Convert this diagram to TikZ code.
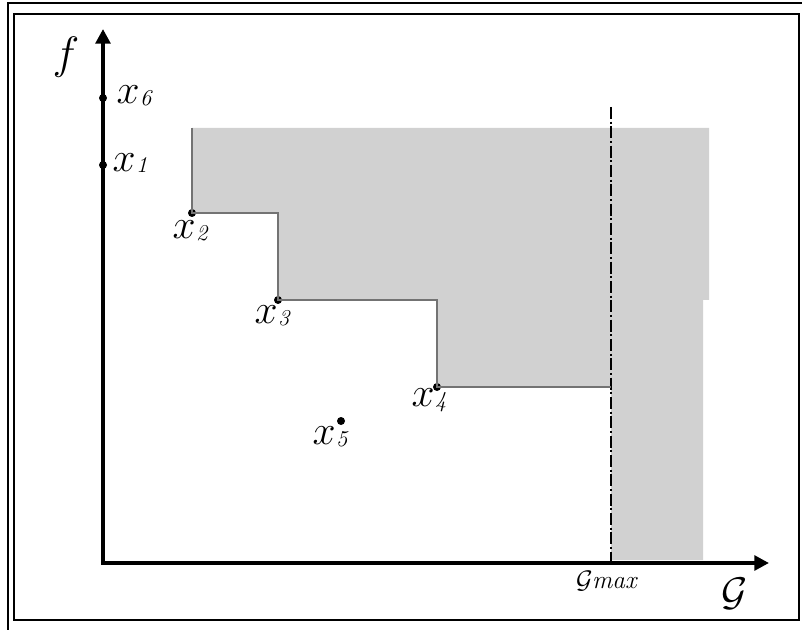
\RequirePackage{fix-cm}
\documentclass[tikz,border=0pt]{standalone}
\usetikzlibrary{arrows.meta}
\newcommand{\ptlabel}[1]{{\fontsize{31}{31}\selectfont$x$}\kern0.5pt\raisebox{-0.1em}{\fontsize{17}{17}\selectfont\itshape #1}}
\begin{document}
\begin{tikzpicture}[x=0.75pt,y=-0.75pt,
  dot/.style={circle,fill=black,inner sep=0pt,minimum size=6pt},
  lbl/.style={inner sep=0pt,anchor=center},
  axes/.style={line width=3pt,line join=miter,
    {Triangle[length=11pt,width=11pt]}-{Triangle[length=11pt,width=11pt]}},
  front/.style={draw=black!55,line width=1.3pt},
  feasible/.style={fill=black!18},
  limit/.style={line width=1.4pt,dash pattern=on 9pt off 2pt on 1.5pt off 2pt},
  frame/.style={line width=1.5pt}]
\useasboundingbox (0,0) rectangle (802,630);

% double frame
\draw[frame] (8,630) -- (8,3) -- (802,3);
\draw[frame] (14,14) rectangle (799,620);

% dominated region behind the front
\fill[feasible] (192,128) -- (709,128) -- (709,300) -- (703,300) -- (703,560)
  -- (611,560) -- (611,387) -- (437,387) -- (437,300) -- (278,300)
  -- (278,213) -- (192,213) -- cycle;

% axes
\coordinate (O) at (103,563);
\coordinate (ytip) at (103,29);
\coordinate (xtip) at (769,563);
\draw[axes] (ytip) -- (O) -- (xtip);

% G max limit
\coordinate (gtop) at (611,107);
\coordinate (gbot) at (611,561);
\draw[limit] (gtop) -- (gbot);

% points
\node[dot] (x6) at (103,98) {};
\node[dot] (x1) at (103,165) {};
\node[dot] (x2) at (192,213) {};
\node[dot] (x3) at (278,300) {};
\node[dot] (x4) at (437,387) {};
\node[dot] (x5) at (341,421) {};

% staircase front
\coordinate (ftop) at (192,128);
\coordinate (fend) at (611,387);
\draw[front] (ftop) -- (x2.center) -| (x3.center) -| (x4.center) -- (fend);

% point labels
\node[lbl] (l6) at (134,96) {\ptlabel{6}};
\node[lbl] (l1) at (130,163) {\ptlabel{1}};
\node[lbl] (l2) at (190,231) {\ptlabel{2}};
\node[lbl] (l3) at (272,316) {\ptlabel{3}};
\node[lbl] (l4) at (429,400) {\ptlabel{4}};
\node[lbl] (l5) at (330,437) {\ptlabel{5}};

% axis labels
\node[lbl] (fl) at (66,57) {\fontsize{34}{34}\selectfont$f$};
\node[lbl] (Gl) at (735,594) {\fontsize{30}{30}\selectfont$\mathcal{G}$};
\node[lbl] (gm) at (607,581) {\fontsize{19}{19}\selectfont$\mathcal{G}$\kern-0.5pt\textit{max}};
\end{tikzpicture}
\end{document}
